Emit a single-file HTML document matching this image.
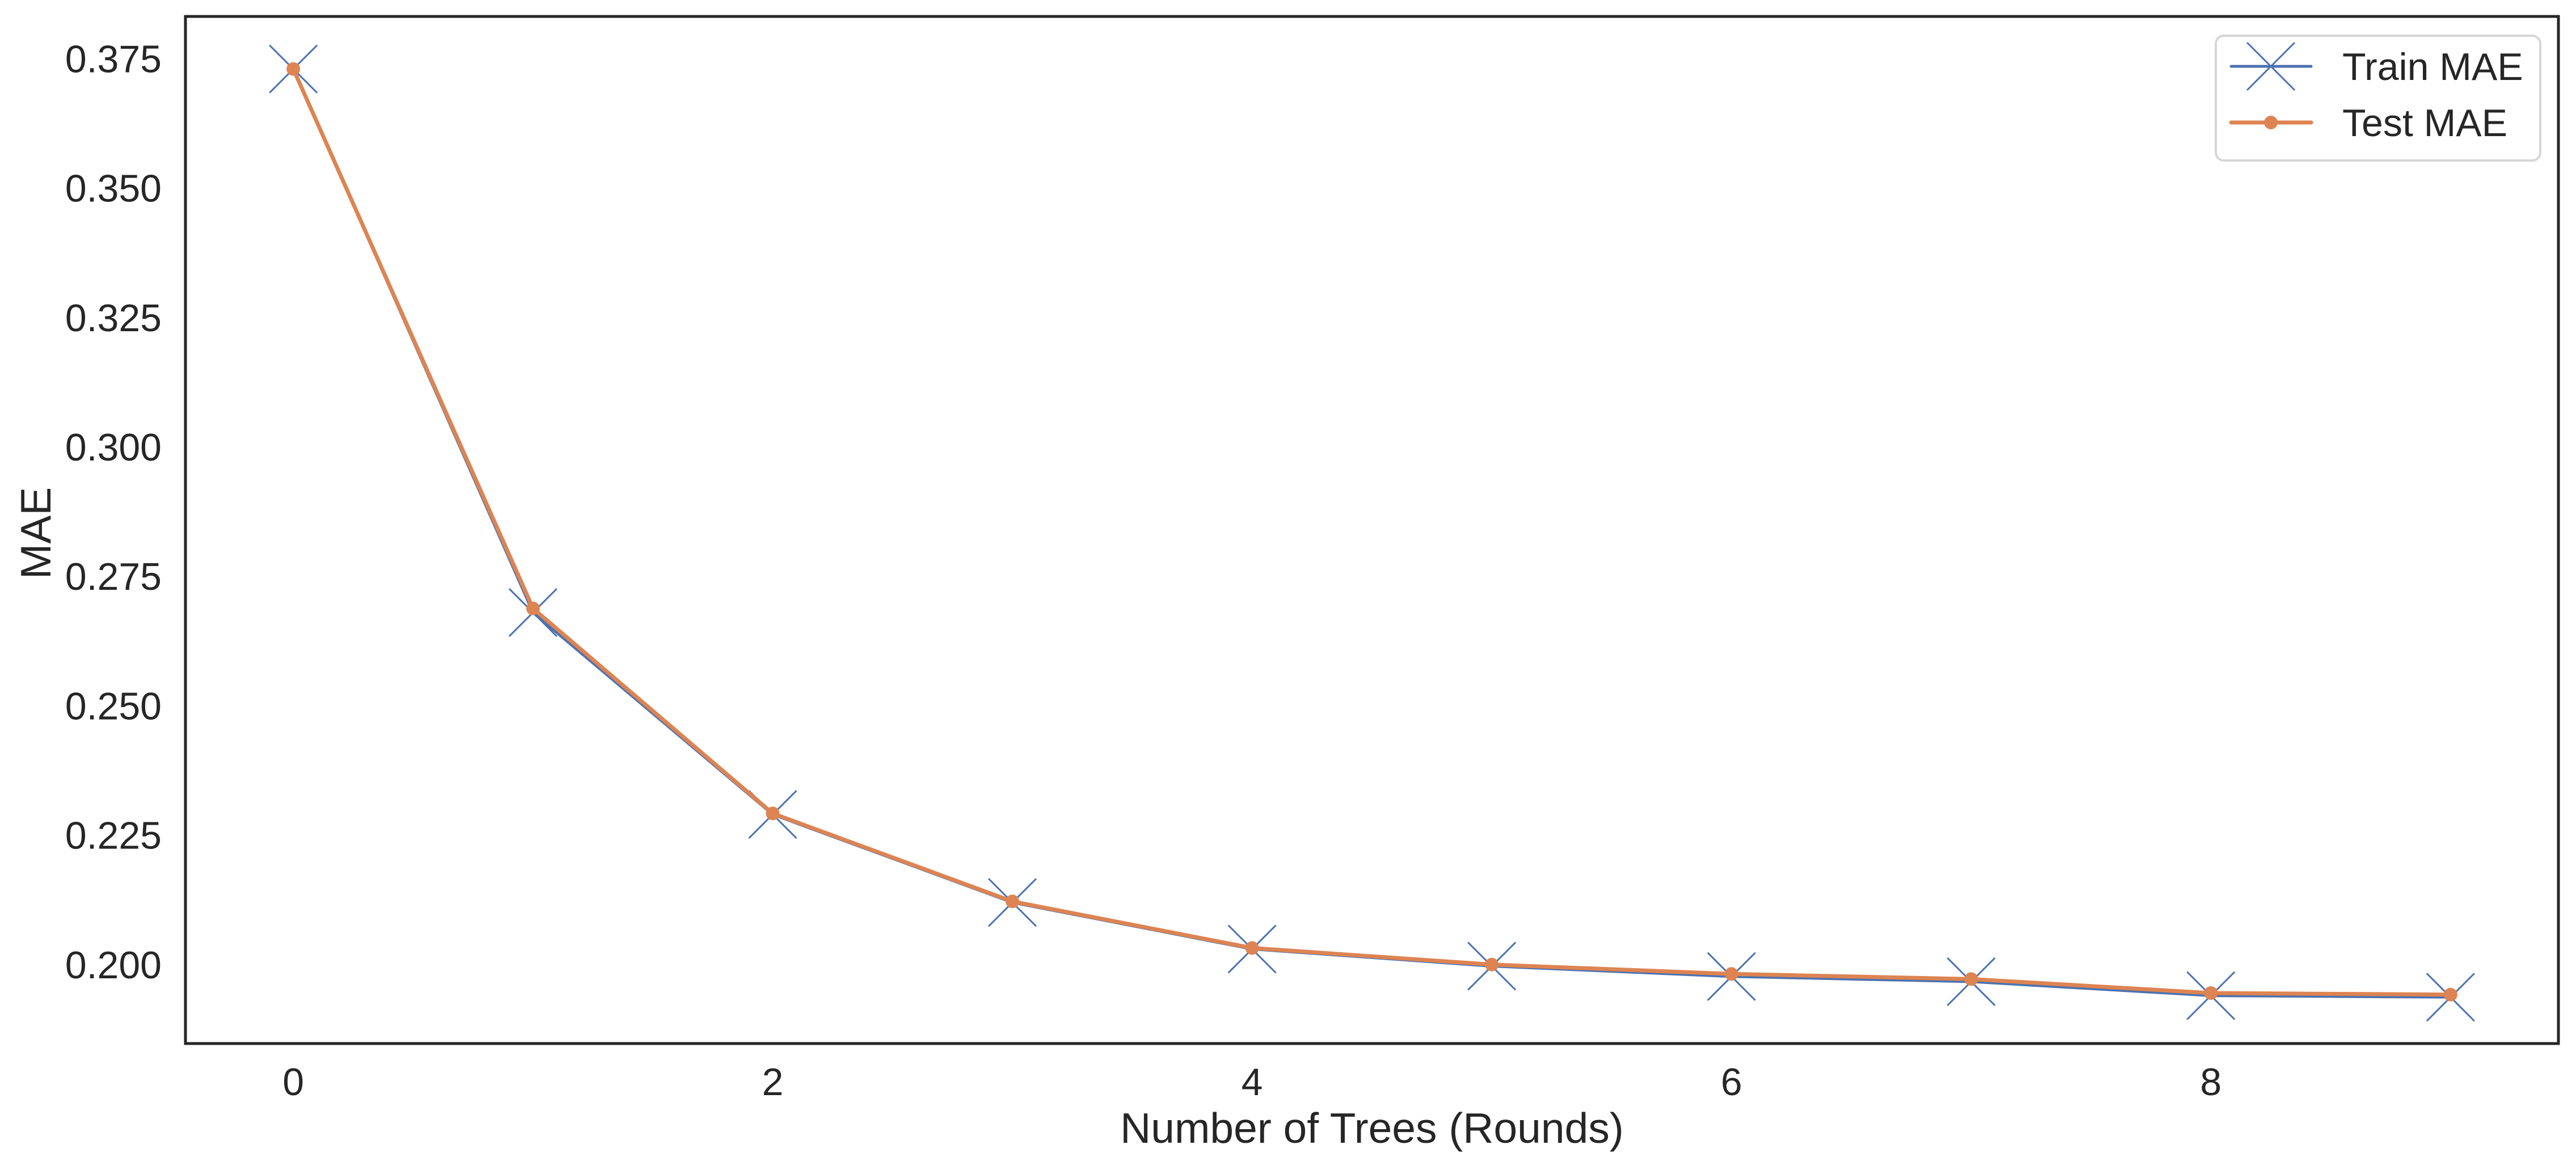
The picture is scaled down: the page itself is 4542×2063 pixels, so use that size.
<!DOCTYPE html>
<html><head><meta charset="utf-8"><style>
html,body{margin:0;padding:0;background:#fff;}
svg{display:block;font-family:"Liberation Sans",Arial,sans-serif;}
</style></head><body>
<svg id="chart" width="4542" height="2063" viewBox="0 0 4542 2063" xmlns="http://www.w3.org/2000/svg">
<rect width="4542" height="2063" fill="#fff"/>
<g id="plot"></g>
<text x="2419" y="2015" font-size="75" text-anchor="middle" fill="#262626">Number of Trees (Rounds)</text>
<text x="0" y="0" font-size="75" text-anchor="middle" fill="#262626" transform="translate(89,940) rotate(-90)">MAE</text>
<g>
<rect x="3907" y="63" width="572" height="220" rx="14" fill="#fff" stroke="#d6d6d6" stroke-width="4"/>
<g>
<line x1="3934" y1="117" x2="4075" y2="117" stroke="#4c72b0" stroke-width="5" stroke-linecap="round"/>
<path d="M3962,75 L4046,159 M4046,75 L3962,159" stroke="#4c72b0" stroke-width="3"/>
<text x="4130" y="141" font-size="68" fill="#262626">Train MAE</text>
</g>
<g>
<line x1="3934" y1="216" x2="4075" y2="216" stroke="#dd8452" stroke-width="7" stroke-linecap="round"/>
<ellipse cx="4004" cy="216" rx="12" ry="12" fill="#dd8452"/>
<text x="4130" y="240" font-size="68" fill="#262626">Test MAE</text>
</g>
</g>
</svg>
<script>
const rounds = [0,1,2,3,4,5,6,7,8,9];
const trainMAE = [0.373,0.268,0.229,0.212,0.203,0.1997,0.1977,0.1967,0.1940,0.1937];
const testMAE = [0.373,0.2688,0.2292,0.2122,0.2032,0.2000,0.1982,0.1972,0.1945,0.1942];
const yTicks = [0.200,0.225,0.250,0.275,0.300,0.325,0.350,0.375];
const xTicks = [0,2,4,6,8];

const L=327,R=4511,T=29,B=1840;
const xMin=-0.45,xMax=9.45,yMin=0.18475,yMax=0.38315;
const sx=v=>L+(v-xMin)/(xMax-xMin)*(R-L);
const sy=v=>B-(v-yMin)/(yMax-yMin)*(B-T);
const NS="http://www.w3.org/2000/svg";
const plot=document.getElementById('plot');
function mk(tag,attrs,parent){const e=document.createElementNS(NS,tag);for(const k in attrs)e.setAttribute(k,attrs[k]);(parent||plot).appendChild(e);return e;}

yTicks.forEach(v=>{
  const t=mk('text',{x:285,y:sy(v)+24,'font-size':68,'text-anchor':'end',fill:'#262626'});
  t.textContent=v.toFixed(3);
  
  
});
xTicks.forEach(v=>{
  const t=mk('text',{x:sx(v),y:1931,'font-size':68,'text-anchor':'middle',fill:'#262626'});
  t.textContent=String(v);
  
  
});

const trainLine=mk('polyline',{points:rounds.map((r,i)=>sx(r)+','+sy(trainMAE[i])).join(' '),fill:'none',stroke:'#4c72b0','stroke-width':5,'stroke-linejoin':'round'});


rounds.forEach((r,i)=>{
  const cx=sx(r),cy=sy(trainMAE[i]);
  const m=mk('path',{d:`M${cx-42},${cy-42} L${cx+42},${cy+42} M${cx+42},${cy-42} L${cx-42},${cy+42}`,stroke:'#4c72b0','stroke-width':3});
  
  
});
const testLine=mk('polyline',{points:rounds.map((r,i)=>sx(r)+','+sy(testMAE[i])).join(' '),fill:'none',stroke:'#dd8452','stroke-width':7,'stroke-linejoin':'round'});


rounds.forEach((r,i)=>{
  const c=mk('circle',{cx:sx(r),cy:sy(testMAE[i]),r:12,fill:'#dd8452'});
  
  
});
const frame=mk('rect',{x:L,y:T,width:R-L,height:B-T,fill:'none',stroke:'#262626','stroke-width':5});


</script>
</body></html>
